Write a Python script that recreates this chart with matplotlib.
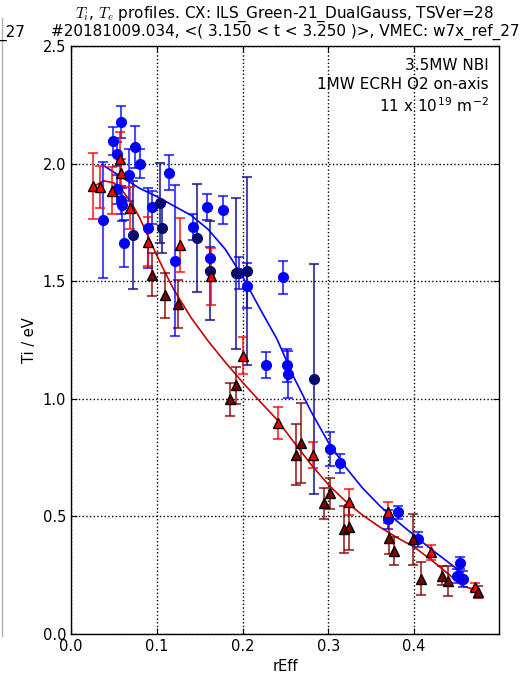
import matplotlib
matplotlib.use("Agg")
import matplotlib.pyplot as plt
from matplotlib.lines import Line2D

# CX ion temperature, bright channel (x, Ti, err)
blue_x = [0.0375, 0.0488, 0.0535, 0.054, 0.0586, 0.0586, 0.060, 0.0613, 0.068, 0.075,
          0.0805, 0.090, 0.095, 0.114, 0.1215, 0.1426, 0.158, 0.162, 0.177, 0.1957,
          0.2055, 0.2476, 0.2268, 0.2523, 0.2532, 0.3023, 0.314, 0.370, 0.381, 0.405,
          0.454, 0.450, 0.457]
blue_y = [1.76, 2.096, 2.04, 1.89, 2.177, 1.845, 1.825, 1.662, 1.95, 2.07,
          2.00, 1.728, 1.815, 1.962, 1.587, 1.73, 1.817, 1.597, 1.803, 1.535,
          1.481, 1.516, 1.142, 1.142, 1.105, 0.786, 0.725, 0.487, 0.517, 0.402,
          0.303, 0.248, 0.234]
blue_err = [0.245, 0.06, 0.05, 0.06, 0.07, 0.06, 0.07, 0.10, 0.11, 0.09,
            0.06, 0.17, 0.07, 0.075, 0.32, 0.055, 0.055, 0.05, 0.06, 0.07,
            0.095, 0.07, 0.055, 0.07, 0.10, 0.072, 0.04, 0.04, 0.028, 0.032,
            0.025, 0.03, 0.034]

# CX ion temperature, dark channel
navy_x = [0.0723, 0.104, 0.106, 0.147, 0.162, 0.192, 0.2047, 0.2829]
navy_y = [1.696, 1.832, 1.728, 1.685, 1.545, 1.533, 1.545, 1.084]
navy_err = [0.23, 0.17, 0.11, 0.23, 0.21, 0.32, 0.40, 0.49]

# second set, bright triangles
red_x = [0.026, 0.034, 0.0477, 0.0574, 0.0582, 0.0683, 0.0899, 0.127, 0.163, 0.201,
         0.2415, 0.2825, 0.3243, 0.370, 0.420, 0.4707]
red_y = [1.905, 1.90, 1.885, 2.018, 1.958, 1.81, 1.668, 1.654, 1.52, 1.184,
         0.899, 0.761, 0.56, 0.517, 0.347, 0.201]
red_err = [0.14, 0.09, 0.10, 0.115, 0.06, 0.09, 0.105, 0.115, 0.12, 0.08,
           0.068, 0.057, 0.055, 0.046, 0.033, 0.015]

# second set, dark triangles
dred_x = [0.0943, 0.1095, 0.1246, 0.185, 0.1918, 0.2621, 0.268, 0.295, 0.3016, 0.318,
          0.3243, 0.3707, 0.3766, 0.399, 0.408, 0.4324, 0.439, 0.4743]
dred_y = [1.527, 1.44, 1.403, 0.998, 1.057, 0.763, 0.814, 0.555, 0.598, 0.446,
          0.454, 0.41, 0.352, 0.402, 0.234, 0.247, 0.225, 0.177]
dred_err = [0.092, 0.095, 0.10, 0.07, 0.077, 0.13, 0.17, 0.067, 0.067, 0.10,
            0.096, 0.07, 0.06, 0.108, 0.07, 0.04, 0.065, 0.025]

# fitted profiles
fit_blue_x = [0.037, 0.06, 0.08, 0.10, 0.12, 0.14, 0.16, 0.18, 0.20, 0.22,
              0.24, 0.26, 0.28, 0.30, 0.32, 0.34, 0.36, 0.38, 0.40, 0.42,
              0.44, 0.456]
fit_blue_y = [1.994, 1.94, 1.895, 1.86, 1.82, 1.78, 1.72, 1.635, 1.52, 1.385,
              1.255, 1.09, 0.945, 0.815, 0.71, 0.62, 0.545, 0.48, 0.42, 0.36,
              0.305, 0.26]
fit_red_x = [0.026, 0.038, 0.05, 0.06, 0.07, 0.08, 0.09, 0.10, 0.11, 0.12,
             0.14, 0.16, 0.18, 0.20, 0.22, 0.24, 0.26, 0.28, 0.30, 0.32,
             0.34, 0.36, 0.38, 0.40, 0.42, 0.44, 0.456, 0.465, 0.4755]
fit_red_y = [1.902, 1.927, 1.918, 1.885, 1.835, 1.77, 1.69, 1.61, 1.535, 1.463,
             1.345, 1.245, 1.155, 1.07, 0.99, 0.912, 0.815, 0.72, 0.635, 0.565,
             0.505, 0.455, 0.41, 0.37, 0.315, 0.255, 0.205, 0.195, 0.19]

x_ticks = [0.0, 0.1, 0.2, 0.3, 0.4]
y_ticks = [0.0, 0.5, 1.0, 1.5, 2.0, 2.5]

plt.rcParams["font.family"] = "DejaVu Sans"
plt.rcParams["font.size"] = 10
plt.rcParams["mathtext.fontset"] = "cm"

fig = plt.figure(figsize=(5.25, 6.77), dpi=100)
ax = fig.add_axes([71 / 525, 1 - 634 / 677, 428 / 525, 588 / 677])

ax.plot(fit_blue_x, fit_blue_y, color="#0000ff", lw=1.2, zorder=2)
ax.plot(fit_red_x, fit_red_y, color="#c80000", lw=1.2, zorder=2)

ax.errorbar(blue_x, blue_y, yerr=blue_err, fmt="none", ecolor="#0000ff", alpha=0.7,
            elinewidth=1.5, capsize=3.5, capthick=1.5, zorder=3)
ax.plot(blue_x, blue_y, "o", color="#0000ff", mec="#0000ff", ms=7, zorder=4)

ax.errorbar(navy_x, navy_y, yerr=navy_err, fmt="none", ecolor="#10108a", alpha=0.75,
            elinewidth=1.5, capsize=3.5, capthick=1.5, zorder=3)
ax.plot(navy_x, navy_y, "o", color="#0a0a6e", mec="#0a0a6e", ms=7, zorder=4)

ax.errorbar(red_x, red_y, yerr=red_err, fmt="none", ecolor="#ff0000", alpha=0.7,
            elinewidth=1.5, capsize=3.5, capthick=1.5, zorder=3)
ax.plot(red_x, red_y, "^", color="#ff0000", mec="black", mew=1, ms=6.5, zorder=5)

ax.errorbar(dred_x, dred_y, yerr=dred_err, fmt="none", ecolor="#800000", alpha=0.7,
            elinewidth=1.5, capsize=3.5, capthick=1.5, zorder=3)
ax.plot(dred_x, dred_y, "^", color="#7f0000", mec="black", mew=1, ms=6.5, zorder=5)

ax.set_xlim(0, 0.499)
ax.set_ylim(0, 2.5)
ax.set_xticks(x_ticks)
ax.set_yticks(y_ticks)
ax.grid(True, color="black", linestyle=":", linewidth=1)
ax.tick_params(direction="in", top=True, right=True, length=4, labelsize=10.5)
for s in ax.spines.values():
    s.set_linewidth(1)

ax.set_xlabel("rEff", fontsize=10.5)
ax.set_ylabel("Ti / eV", fontsize=10.5)
ax.set_title("$T_i$, $T_e$ profiles. CX: ILS_Green-21_DualGauss, TSVer=28\n"
             "#20181009.034, <( 3.150 < t < 3.250 )>, VMEC: w7x_ref_27",
             fontsize=11, pad=7, linespacing=1.0)

ax.text(0.976, 0.979,
        "3.5MW NBI\n1MW ECRH O2 on-axis\n"
        "11 x 10$^{\\mathregular{19}}$ m$^{\\mathregular{-2}}$",
        transform=ax.transAxes, ha="right", va="top", fontsize=11, linespacing=1.3)

# remnants of the neighbouring panel
fig.text(25 / 525, 1 - 37 / 677, "_27", ha="right", va="baseline", fontsize=11)
fig.add_artist(Line2D([2 / 525, 2 / 525], [1 - 636 / 677, 1 - 18 / 677],
                      color="#b0b0b0", lw=1))

fig.savefig("out.png", dpi=100)
